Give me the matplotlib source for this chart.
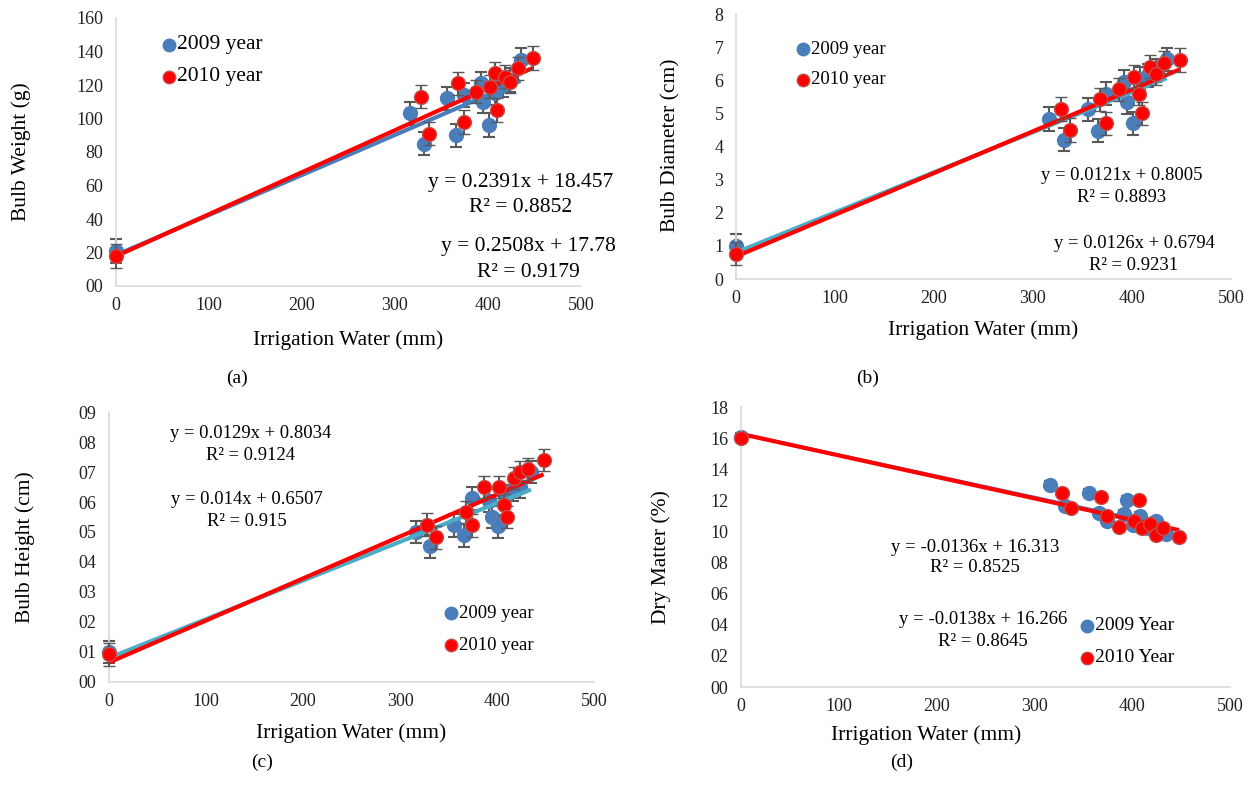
import matplotlib
matplotlib.use("Agg")
import matplotlib.pyplot as plt
import numpy as np

plt.rcParams["font.family"] = "Liberation Serif"

W, H = 1252, 787

# ---- data ----
x_2009 = [0, 316, 331, 356, 366, 374, 392, 395, 401, 408, 416, 424, 435]
x_2010 = [0, 328, 337, 368, 374, 387, 402, 407, 410, 418, 424, 432, 448]

weight_2009 = [21, 103, 85, 112, 90, 114, 121, 110, 96, 115, 120, 123, 135]
weight_2010 = [18, 113, 91, 121, 98, 116, 119, 127, 105, 125, 122, 130, 136]

diam_2009 = [1.0, 4.83, 4.2, 5.12, 4.48, 5.6, 5.96, 5.33, 4.7, 6.05, 6.15, 6.3, 6.63]
diam_2010 = [0.76, 5.13, 4.5, 5.43, 4.7, 5.73, 6.11, 5.59, 5.0, 6.41, 6.2, 6.53, 6.61]

height_2009 = [1.0, 5.0, 4.53, 5.22, 4.89, 6.13, 6.05, 5.5, 5.19, 6.2, 6.4, 6.5, 7.0]
height_2010 = [0.92, 5.24, 4.83, 5.67, 5.22, 6.5, 6.5, 5.9, 5.5, 6.8, 7.0, 7.1, 7.4]

dry_2009 = [16.08, 13.0, 11.66, 12.5, 11.2, 10.7, 11.1, 12.0, 10.4, 11.0, 10.2, 10.7, 9.85]
dry_2010 = [16.0, 12.5, 11.5, 12.2, 11.0, 10.3, 10.7, 12.05, 10.2, 10.5, 9.8, 10.2, 9.64]

# error bar half-widths
err_weight = 7
err_diam = 0.35
err_height = 0.38
err_dry = 0.25

# trendline coefficients (slope, intercept) as printed on the chart
fit_weight = [(0.2391, 18.457), (0.2508, 17.78)]
fit_diam = [(0.0121, 0.8005), (0.0126, 0.6794)]
fit_height = [(0.0129, 0.8034), (0.014, 0.6507)]
fit_dry = [(-0.0136, 16.313), (-0.0138, 16.266)]

r2_weight = ["0.8852", "0.9179"]
r2_diam = ["0.8893", "0.9231"]
r2_height = ["0.9124", "0.915"]
r2_dry = ["0.8525", "0.8645"]

eq_weight = ["y = 0.2391x + 18.457", "y = 0.2508x + 17.78"]
eq_diam = ["y = 0.0121x + 0.8005", "y = 0.0126x + 0.6794"]
eq_height = ["y = 0.0129x + 0.8034", "y = 0.014x + 0.6507"]
eq_dry = ["y = -0.0136x + 16.313", "y = -0.0138x + 16.266"]

yticks_weight = ["00", "20", "40", "60", "80", "100", "120", "140", "160"]
yticks_diam = ["0", "1", "2", "3", "4", "5", "6", "7", "8"]
yticks_height = ["00", "01", "02", "03", "04", "05", "06", "07", "08", "09"]
yticks_dry = ["00", "02", "04", "06", "08", "10", "12", "14", "16", "18"]

BLUE = "#4a7ebb"
RED = "#ff0000"
RED_EDGE = "#c0504d"
ERR = "#595959"

fig = plt.figure(figsize=(W / 100, H / 100), dpi=100)


def px_axes(left, top, right, bottom):
    return fig.add_axes([left / W, 1 - bottom / H, (right - left) / W, (bottom - top) / H])


def ftext(x, y, s, **kw):
    fig.text(x / W, 1 - y / H, s, **kw)


def panel(box, y09, y10, err, fits, line09_color, line09_w, ymax, ystep, ylabels,
          ylabel, xlabel_pos, ylabel_pos, eqs, r2s, eq_pos, eq_size, leg_pos, leg_size,
          leg_names, letter, letter_pos):
    ax = px_axes(*box)
    ax.errorbar(x_2009, y09, yerr=err, fmt="o", ms=10, color=BLUE, mec=BLUE,
                ecolor=ERR, elinewidth=1.5, capsize=4.5, capthick=1.5, zorder=2, clip_on=False)
    xs = np.array([0, max(x_2009)])
    ax.plot(xs, fits[0][0] * xs + fits[0][1], color=line09_color, lw=line09_w, zorder=3,
            solid_capstyle="butt")
    xs = np.array([0, max(x_2010)])
    ax.plot(xs, fits[1][0] * xs + fits[1][1], color=RED, lw=3, zorder=4, solid_capstyle="butt")
    ax.errorbar(x_2010, y10, yerr=err, fmt="o", ms=10, color=RED, mec=RED_EDGE, mew=1,
                ecolor=ERR, elinewidth=1.5, capsize=4.5, capthick=1.5, zorder=5, clip_on=False)
    ax.set_xlim(0, 500)
    ax.set_ylim(0, ymax)
    ax.set_xticks(range(0, 501, 100))
    ax.set_yticks(np.arange(len(ylabels)) * ystep)
    ax.set_yticklabels(ylabels)
    ax.tick_params(length=0, labelsize=13, colors="#222222")
    ax.tick_params(axis="y", pad=9)
    ax.tick_params(axis="x", pad=8)
    for s in ["top", "right"]:
        ax.spines[s].set_visible(False)
    for s in ["left", "bottom"]:
        ax.spines[s].set_color("#d9d9d9")
        ax.spines[s].set_linewidth(1.2)

    ftext(*xlabel_pos, "Irrigation Water (mm)", fontsize=15.5, ha="center", va="center")
    ftext(*ylabel_pos, ylabel, fontsize=15.5, ha="center", va="center", rotation=90)
    for i in range(2):
        cx, cy, dy = eq_pos[i]
        ftext(cx, cy, eqs[i], fontsize=eq_size, ha="center", va="center")
        ftext(cx, cy + dy, "R\u00b2 = " + r2s[i], fontsize=eq_size, ha="center", va="center")
    lx, ly, gap = leg_pos
    for i, (c, ec) in enumerate([(BLUE, BLUE), (RED, RED_EDGE)]):
        fig.lines.append(plt.Line2D([lx / W], [1 - (ly + gap * i) / H], marker="o", ms=9,
                                    color=c, mec=ec, transform=fig.transFigure, figure=fig))
        ftext(lx + 8, ly + gap * i, leg_names[i], fontsize=leg_size, ha="left", va="center")
    ftext(*letter_pos, letter, fontsize=14, ha="center", va="center")
    return ax


panel((116, 18, 581, 286), weight_2009, weight_2010, err_weight, fit_weight, BLUE, 3,
      160, 20, yticks_weight, "Bulb Weight (g)", (348, 340), (21, 152),
      eq_weight, r2_weight, [(521, 183, 24), (528, 247, 25)], 15.5, (169, 45, 32), 15.5,
      ["2009 year", "2010 year"], "(a)", (237, 378))

panel((736, 14, 1231, 279), diam_2009, diam_2010, err_diam, fit_diam, "#4bacc6", 3,
      8, 1, yticks_diam, "Bulb Diameter (cm)", (983, 330), (671, 145),
      eq_diam, r2_diam, [(1122, 175, 22), (1134, 243, 22)], 13.4, (803, 49, 31), 13.5,
      ["2009 year", "2010 year"], "(b)", (868, 378))

panel((109, 412, 594, 682), height_2009, height_2010, err_height, fit_height, "#4bacc6", 3,
      9, 1, yticks_height, "Bulb Height (cm)", (351, 733), (25, 547),
      eq_height, r2_height, [(251, 433, 22), (247, 499, 22)], 13.4, (451, 613, 32), 13.5,
      ["2009 year", "2010 year"], "(c)", (262, 762))

panel((741, 407, 1230, 687), dry_2009, dry_2010, err_dry, fit_dry, BLUE, 1.5,
      18, 2, yticks_dry, "Dry Matter (%)", (926, 735), (661, 557),
      eq_dry, r2_dry, [(975, 547, 21), (983, 619, 22)], 13.5, (1087, 626, 32), 14,
      ["2009 Year", "2010 Year"], "(d)", (902, 762))

fig.savefig("out.png", dpi=100, facecolor="white")
